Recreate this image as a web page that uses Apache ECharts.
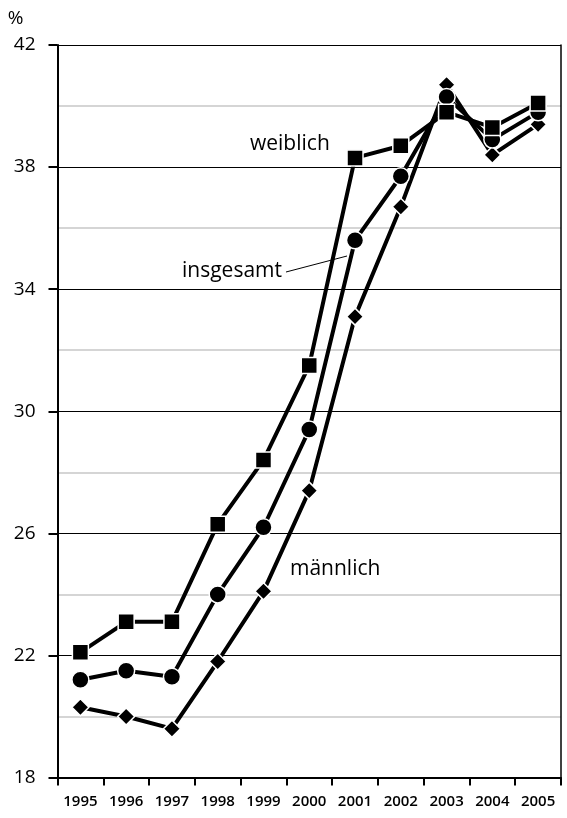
<!DOCTYPE html>
<html>
<head>
<meta charset="utf-8">
<script src="https://cdn.jsdelivr.net/npm/echarts@6/dist/echarts.min.js"></script>
<style>
  html, body { margin: 0; padding: 0; background: #fff; }
  #chart { width: 567px; height: 818px; }
</style>
</head>
<body>
<div id="chart"></div>
<script>
// Jahre
var years = ["1995", "1996", "1997", "1998", "1999", "2000", "2001", "2002", "2003", "2004", "2005"];
// Anteile in %
var weiblich = [22.1, 23.1, 23.1, 26.3, 28.4, 31.5, 38.3, 38.7, 39.8, 39.3, 40.1];
var insgesamt = [21.2, 21.5, 21.3, 24.0, 26.2, 29.4, 35.6, 37.7, 40.3, 38.9, 39.8];
var maennlich = [20.3, 20.0, 19.6, 21.8, 24.1, 27.4, 33.1, 36.7, 40.7, 38.4, 39.4];

var fontName = "'Open Sans', 'DejaVu Sans', sans-serif";

function lineSeries(name, data, symbol, size) {
  return {
    name: name,
    type: "line",
    data: data,
    symbol: symbol,
    symbolSize: size,
    showAllSymbol: true,
    lineStyle: { color: "#000", width: 4 },
    itemStyle: { color: "#000", borderColor: "#fff", borderWidth: 1.5 },
    emphasis: { disabled: true },
    z: 3,
  };
}

var chart = echarts.init(document.getElementById("chart"));
var option = {
  animation: false,
  grid: { left: 57.5, right: 6, top: 45, bottom: 40.5 },
  xAxis: {
    type: "category",
    data: years,
    boundaryGap: true,
    axisLine: { lineStyle: { color: "#000", width: 2 } },
    axisTick: { show: true, length: 8, lineStyle: { color: "#000", width: 2 } },
    axisLabel: {
      color: "#000",
      fontFamily: fontName,
      fontSize: 15,
      fontWeight: 600,
      margin: 17,
    },
  },
  yAxis: [
    {
      type: "value",
      min: 18,
      max: 42,
      interval: 4,
      axisLine: { show: true, lineStyle: { color: "#000", width: 2 } },
      axisTick: { show: true, length: 9, lineStyle: { color: "#000", width: 2 } },
      axisLabel: {
        color: "#000",
        fontFamily: fontName,
        fontSize: 19,
        margin: 22,
      },
      splitLine: { show: true, lineStyle: { color: "#000", width: 1 } },
      minorTick: { show: false, splitNumber: 2 },
      minorSplitLine: { show: true, lineStyle: { color: "#c8c8c8", width: 1.5 } },
      name: "%",
      nameLocation: "end",
      nameGap: 17,
      nameTextStyle: {
        color: "#000",
        fontFamily: fontName,
        fontSize: 19,
        align: "right",
        padding: [0, 34, 0, 0],
      },
    },
    {
      type: "value",
      position: "right",
      min: 18,
      max: 42,
      interval: 4,
      axisLine: { show: true, lineStyle: { color: "#000", width: 1.5 } },
      axisTick: { show: false },
      axisLabel: { show: false },
      splitLine: { show: false },
    },
  ],
  series: [
    lineSeries("männlich", maennlich, "diamond", 17),
    lineSeries("insgesamt", insgesamt, "circle", 17),
    lineSeries("weiblich", weiblich, "rect", 16),
  ],
  graphic: [
    {
      type: "text",
      left: 250,
      top: 134,
      style: { text: "weiblich", font: "21px " + fontName, fill: "#000" },
    },
    {
      type: "text",
      left: 182,
      top: 261,
      style: { text: "insgesamt", font: "21px " + fontName, fill: "#000" },
    },
    {
      type: "line",
      shape: { x1: 286, y1: 272, x2: 347, y2: 256 },
      style: { stroke: "#000", lineWidth: 1 },
    },
    {
      type: "text",
      left: 290,
      top: 559,
      style: { text: "männlich", font: "21px " + fontName, fill: "#000" },
    },
  ],
};
chart.setOption(option);
</script>
</body>
</html>
